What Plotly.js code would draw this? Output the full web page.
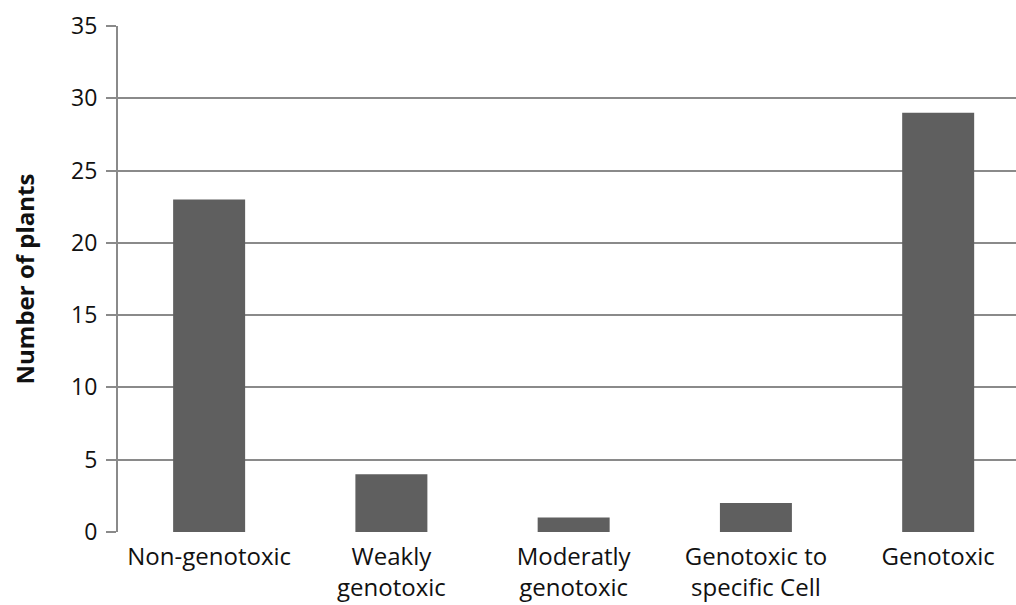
<!DOCTYPE html>
<html>
<head>
<meta charset="utf-8">
<script src="https://cdn.plot.ly/plotly-3.0.1.min.js"></script>
<style>
  html, body { margin: 0; padding: 0; background: #fff; }
  #chart { width: 1016px; height: 605px; }
</style>
</head>
<body>
<div id="chart"></div>
<script>
// Plants classified by genotoxicity outcome
const categories = [
  "Non-genotoxic",
  "Weakly<br>genotoxic",
  "Moderatly<br>genotoxic",
  "Genotoxic to<br>specific Cell",
  "Genotoxic"
];
const plantCounts = [23, 4, 1, 2, 29];
const yTickValues = [0, 5, 10, 15, 20, 25, 30, 35];

const gridGray = "#8a8a8a";
const xLabelFont = { family: "Open Sans, sans-serif", size: 24, color: "#111" };
const yLabelFont = { family: "Open Sans, sans-serif", size: 23, color: "#111" };

const trace = {
  type: "bar",
  x: categories,
  y: plantCounts,
  marker: { color: "#5f5f5f", line: { width: 0 } },
  hoverinfo: "x+y"
};

const layout = {
  width: 1016,
  height: 605,
  margin: { l: 118, r: 0, t: 26, b: 73, pad: 0 },
  paper_bgcolor: "#fff",
  plot_bgcolor: "#fff",
  showlegend: false,
  bargap: 0.605,
  xaxis: {
    type: "category",
    range: [-0.5, 4.427],
    showgrid: false,
    zeroline: false,
    showline: false,
    ticks: "",
    ticklabelstandoff: 8,
    tickfont: xLabelFont,
    tickangle: 0,
    fixedrange: true
  },
  yaxis: {
    range: [0, 35],
    tickvals: yTickValues,
    ticktext: yTickValues.map(String),
    showgrid: true,
    gridcolor: gridGray,
    gridwidth: 2,
    zeroline: false,
    showline: true,
    linecolor: gridGray,
    linewidth: 2,
    ticks: "outside",
    ticklen: 10,
    tickwidth: 2,
    tickcolor: gridGray,
    ticklabelstandoff: 4,
    tickfont: yLabelFont,
    title: {
      text: "<b>Number of plants</b>",
      font: { family: "Open Sans, sans-serif", size: 24, color: "#111" },
      standoff: 30
    },
    fixedrange: true
  }
};

Plotly.newPlot("chart", [trace], layout, { displayModeBar: false, staticPlot: true });
</script>
</body>
</html>
